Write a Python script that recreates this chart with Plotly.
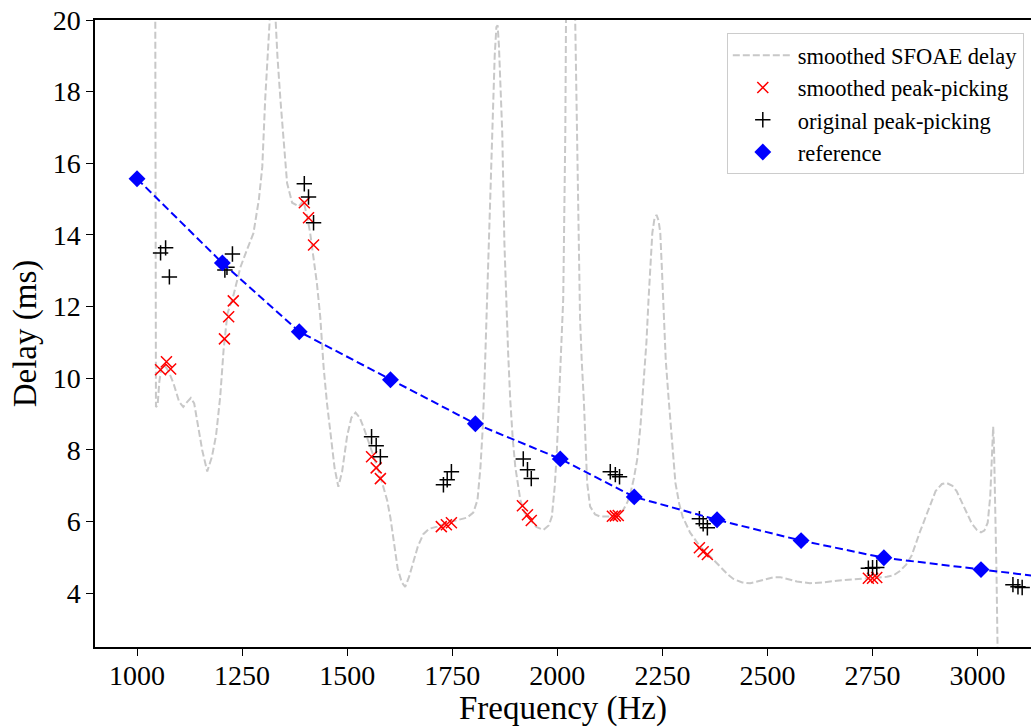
import plotly.graph_objects as go

# ---- data ----
curve_freq = [1042, 1045, 1049, 1053, 1058, 1066, 1075, 1087, 1100, 1110, 1120, 1128, 1136, 1145, 1155,
              1167, 1178, 1188, 1198, 1206, 1215, 1229, 1246, 1262, 1277, 1290, 1298, 1305, 1312, 1318,
              1323, 1328, 1334, 1341, 1349, 1357, 1369, 1385, 1396, 1405, 1412, 1420, 1428, 1436, 1444,
              1452, 1460, 1470, 1479, 1488, 1500, 1510, 1520, 1530, 1540, 1552, 1563, 1575, 1586, 1595,
              1603, 1612, 1620, 1630, 1638, 1647, 1657, 1668, 1681, 1695, 1714, 1738, 1765, 1785, 1800,
              1810, 1817, 1822, 1827, 1833, 1840, 1846, 1851, 1855, 1858, 1861, 1865, 1869, 1874, 1878,
              1883, 1888, 1894, 1900, 1912, 1922, 1935, 1950, 1967, 1980, 1987, 1994, 1999, 2007, 2014,
              2019, 2021, 2026, 2031, 2037, 2042, 2047, 2054, 2058, 2063, 2071, 2078, 2090, 2102, 2130,
              2145, 2157, 2167, 2174, 2182, 2190, 2198, 2205, 2212, 2217, 2222, 2226, 2231, 2236, 2241,
              2245, 2249, 2253, 2258, 2265, 2273, 2281, 2290, 2298, 2316, 2340, 2371, 2390, 2406, 2419,
              2440, 2459, 2475, 2495, 2515, 2530, 2550, 2570, 2601, 2630, 2665, 2700, 2727, 2760, 2784,
              2800, 2815, 2830, 2843, 2862, 2886, 2900, 2915, 2926, 2940, 2950, 2962, 2974, 2986, 2998,
              3008, 3016, 3024, 3030, 3033, 3036, 3037, 3039, 3042, 3045, 3048, 3051]
curve_delay = [30.0, 9.2, 9.25, 9.9, 10.3, 10.35, 10.2, 9.85, 9.35, 9.2, 9.35, 9.45, 9.3, 8.7, 8.0,
               7.4, 7.8, 8.4, 9.5, 10.8, 11.8, 12.3, 13.1, 13.6, 14.05, 15.0, 15.9, 17.8, 19.3, 20.5,
               21.5, 20.4, 19.0, 17.8, 16.5, 15.45, 14.9, 14.8, 14.95, 14.5, 14.05, 13.4, 12.65, 11.7, 10.3,
               9.3, 8.5, 7.5, 6.97, 7.4, 8.4, 8.9, 9.04, 8.9, 8.6, 8.2, 7.8, 7.4, 6.97, 6.6,
               6.1, 5.4, 4.7, 4.3, 4.18, 4.45, 4.85, 5.3, 5.65, 5.8, 5.86, 5.97, 6.05, 6.11, 6.25,
               6.6, 7.5, 8.5, 10.0, 12.2, 14.8, 16.85, 19.0, 19.8, 19.85, 19.3, 18.0, 16.85, 13.8, 12.2,
               10.7, 9.4, 8.3, 7.53, 6.6, 6.25, 6.05, 5.85, 5.77, 5.9, 6.14, 7.0, 8.0, 10.3, 12.2,
               16.85, 20.0, 24.0, 40.0, 24.0, 20.0, 16.85, 11.7, 10.5, 9.4, 7.08, 6.42, 6.2, 6.14, 6.14,
               6.2, 6.33, 6.55, 6.8, 7.2, 7.73, 8.7, 9.87, 11.0, 12.2, 13.3, 14.05, 14.45, 14.56, 14.4,
               14.05, 13.0, 11.7, 10.5, 9.4, 8.1, 7.08, 6.5, 6.14, 5.69, 5.3, 4.94, 4.7, 4.52, 4.4,
               4.3, 4.28, 4.33, 4.4, 4.45, 4.45, 4.4, 4.33, 4.28, 4.3, 4.35, 4.38, 4.4, 4.42, 4.46,
               4.5, 4.62, 4.8, 5.05, 5.69, 6.42, 6.85, 7.05, 7.08, 7.0, 6.85, 6.55, 6.25, 5.95, 5.77,
               5.7, 5.75, 5.97, 6.7, 7.5, 8.5, 8.65, 8.1, 6.5, 4.5, 2.0, -5.0]

smoothed_freq = [1056, 1070, 1080, 1208, 1218, 1229, 1398, 1408, 1420, 1558, 1569, 1579,
                 1724, 1736, 1748, 1917, 1929, 1938, 2131, 2138, 2145, 2338, 2347, 2357,
                 2740, 2750, 2760]
smoothed_delay = [10.24, 10.46, 10.26, 11.10, 11.72, 12.16, 14.90, 14.48, 13.72, 7.81, 7.50, 7.20,
                  5.86, 5.91, 5.97, 6.44, 6.19, 6.03, 6.15, 6.16, 6.17, 5.27, 5.16, 5.08,
                  4.42, 4.42, 4.44]

original_freq = [1056, 1068, 1077, 1209, 1214, 1227, 1398, 1408, 1420, 1558, 1569, 1579,
                 1729, 1738, 1748, 1919, 1929, 1938, 2126, 2138, 2148, 2338, 2347, 2357,
                 2740, 2750, 2760, 3084, 3096, 3106]
original_delay = [13.50, 13.64, 12.83, 13.02, 13.10, 13.47, 15.43, 15.06, 14.34, 8.37, 8.12, 7.81,
                  7.03, 7.17, 7.39, 7.75, 7.45, 7.20, 7.39, 7.31, 7.25, 6.08, 5.94, 5.83,
                  4.70, 4.71, 4.72, 4.24, 4.18, 4.16]

reference_freq = [1000, 1203, 1386, 1603, 1805, 2007, 2183, 2380, 2580, 2777, 3008, 3210]
reference_delay = [15.57, 13.22, 11.30, 9.96, 8.73, 7.75, 6.69, 6.05, 5.47, 4.99, 4.66, 4.38]

x_ticks = [1000, 1250, 1500, 1750, 2000, 2250, 2500, 2750, 3000]
y_ticks = [4, 6, 8, 10, 12, 14, 16, 18, 20]

FONT = "Liberation Serif"

fig = go.Figure()
fig.add_trace(go.Scatter(
    x=curve_freq, y=curve_delay, mode="lines", name="smoothed SFOAE delay",
    line=dict(color="#c8c8c8", width=2, dash="7px,3px"),
))
fig.add_trace(go.Scatter(
    x=smoothed_freq, y=smoothed_delay, mode="markers", name="smoothed peak-picking",
    marker=dict(symbol="x-thin", size=11, color="red", line=dict(color="red", width=1.5)),
))
fig.add_trace(go.Scatter(
    x=original_freq, y=original_delay, mode="markers", name="original peak-picking",
    marker=dict(symbol="cross-thin", size=11, color="black", line=dict(color="black", width=1.5)),
))
fig.add_trace(go.Scatter(
    x=reference_freq, y=reference_delay, mode="lines", showlegend=False,
    line=dict(color="blue", width=2, dash="8px,4px"), hoverinfo="skip",
))
fig.add_trace(go.Scatter(
    x=reference_freq, y=reference_delay, mode="markers", name="reference",
    marker=dict(symbol="diamond", size=13, color="blue"),
))

fig.update_layout(
    width=1031, height=727,
    margin=dict(l=95, r=0, t=20, b=80),
    paper_bgcolor="white", plot_bgcolor="white",
    font=dict(family=FONT, color="black", size=28),
    showlegend=True,
    legend=dict(
        x=0.675, y=0.979, xanchor="left", yanchor="top",
        bgcolor="white", bordercolor="#cccccc", borderwidth=1,
        itemwidth=60, tracegroupgap=0,
        font=dict(family=FONT, size=22.5, color="black"),
    ),
    xaxis=dict(
        range=[900, 3127], tickvals=x_ticks, ticktext=[str(v) for v in x_ticks],
        showgrid=False, zeroline=False, showline=True, linecolor="black", linewidth=1.5,
        mirror=True, ticks="outside", ticklen=7, tickwidth=1.2, tickcolor="black",
        ticklabelstandoff=-4,
        tickfont=dict(family=FONT, size=28),
        title=dict(text="Frequency (Hz)", font=dict(family=FONT, size=33), standoff=7),
    ),
    yaxis=dict(
        range=[2.5, 20], tickvals=y_ticks, ticktext=[str(v) for v in y_ticks],
        showgrid=False, zeroline=False, showline=True, linecolor="black", linewidth=1.5,
        mirror=False, ticks="outside", ticklen=7, tickwidth=1.2, tickcolor="black",
        tickfont=dict(family=FONT, size=28),
        title=dict(text="Delay (ms)", font=dict(family=FONT, size=33), standoff=6),
    ),
)

fig.write_html("out.html")
